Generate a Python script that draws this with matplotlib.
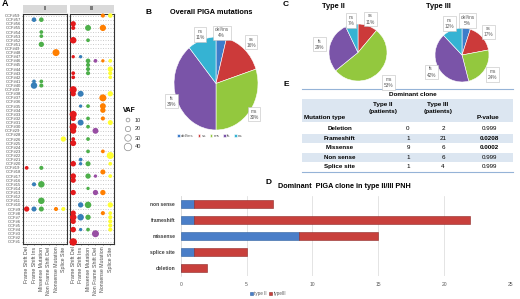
import matplotlib
matplotlib.use('Agg')
import matplotlib.pyplot as plt
from matplotlib.patches import Rectangle
import numpy as np

plt.rcParams['font.family'] = ['Liberation Sans', 'DejaVu Sans']

# ---------------- data ----------------
ccf_ids = [59, 57, 56, 55, 54, 53, 52, 51, 49, 48, 47, 46, 45, 44, 43, 42, 41, 40, 39, 38,
           37, 36, 35, 34, 33, 32, 31, 30, 29, 28, 26, 25, 24, 23, 22, 21, 20, 19, 18, 17,
           16, 15, 14, 13, 12, 11, 10, 9, 8, 7, 6, 5, 4, 3, 2, 1]
mutation_types = ["Frame Shift Del", "Frame Shift Ins", "Missense Mutation",
                  "Non Frame Shift Del", "Nonsense Mutation", "Splice Site"]
mut_colors = ['#E41A1C', '#377EB8', '#4DAF4A', '#984EA3', '#FF7F00', '#FFFF33']

# facet II: sample id, mutation index, VAF
ii_sample = [57, 57, 54, 53, 51, 48, 41, 40, 41, 40, 26, 19, 19, 15, 15, 11, 9, 9, 9, 9, 9]
ii_mut    = [1, 2, 2, 2, 2, 4, 1, 1, 2, 2, 5, 0, 2, 1, 2, 2, 0, 1, 2, 4, 5]
ii_vaf    = [15, 15, 10, 10, 20, 35, 10, 30, 10, 12, 20, 10, 12, 12, 30, 30, 20, 18, 18, 12, 12]

# facet III
iii_sample = [59, 59, 56, 55, 55, 55, 52, 52, 47, 47, 46, 46, 46, 46, 45, 44, 44, 43, 43, 43,
              42, 42, 39, 38, 38, 38, 37, 35, 35, 35, 34, 33, 32, 32, 32, 31, 31, 30, 30, 29,
              29, 26, 26, 25, 23, 23, 22, 21, 20, 20, 20, 20, 18, 17, 17, 17, 17, 16, 14, 13,
              13, 13, 10, 10, 10, 8, 8, 8, 7, 7, 7, 7, 6, 6, 5, 4, 4, 4, 4, 3, 1]
iii_mut    = [4, 5, 0, 0, 2, 4, 0, 2, 0, 1, 2, 3, 4, 5, 2, 2, 5, 2, 5, 0,
              0, 5, 0, 0, 1, 5, 4, 4, 1, 2, 4, 0, 0, 2, 4, 1, 5, 0, 2, 0,
              3, 0, 2, 0, 2, 4, 5, 1, 0, 1, 2, 5, 4, 0, 2, 3, 5, 0, 2, 0,
              3, 4, 1, 2, 5, 0, 4, 5, 0, 1, 2, 5, 0, 5, 5, 0, 1, 2, 5, 3, 0]
iii_vaf    = [12, 15, 20, 12, 25, 28, 30, 10, 8, 8, 15, 10, 8, 10, 12, 12, 20, 12, 12, 10,
              10, 10, 35, 20, 25, 20, 35, 25, 8, 10, 20, 35, 20, 10, 12, 25, 18, 35, 10, 25,
              25, 10, 10, 25, 10, 10, 35, 10, 22, 8, 18, 10, 18, 22, 20, 8, 10, 20, 8, 20,
              20, 20, 20, 30, 20, 20, 12, 10, 30, 30, 20, 12, 20, 12, 12, 22, 8, 10, 12, 35, 40]
vaf_legend = [10, 20, 30, 40]

pie_names = ['del/ins', 'ss', 'ms', 'fs', 'ns']
pie_colors = ['#3D7DCA', '#CC3A3A', '#93C83E', '#7A54A8', '#35B3D3']
overall_pct = [4, 16, 30, 39, 11]
type2_names = ['ss', 'ms', 'fs', 'ns']
type2_pct = [11, 53, 29, 7]
type3_pct = [5, 17, 24, 42, 12]

tbl_types = ['Deletion', 'Frameshift', 'Missense', 'Non sense', 'Splice site']
tbl_t2 = [0, 1, 9, 1, 1]
tbl_t3 = [2, 21, 6, 6, 4]
tbl_p = ['0.999', '0.0208', '0.0002', '0.999', '0.999']

bar_cats = ['deletion', 'splice site', 'missense', 'frameshift', 'non sense']
bar_type2 = [0, 1, 9, 1, 1]
bar_type3 = [2, 4, 6, 21, 6]

# ---------------- figure ----------------
W, H = 520, 299
fig = plt.figure(figsize=(5.2, 2.99), dpi=100)


def box(x0, y0, x1, y1):
    return [x0 / W, 1 - y1 / H, (x1 - x0) / W, (y1 - y0) / H]


cv = fig.add_axes([0, 0, 1, 1])
cv.set_xlim(0, W)
cv.set_ylim(H, 0)
cv.axis('off')


def vsize(v):
    d_px = 7.5 * np.sqrt(np.asarray(v, float) / 40.0)
    return (d_px * 72 / 100.0) ** 2


# ---- Panel A ----
cv.text(2, 4, 'A', fontsize=6.5, fontweight='bold', va='center')
n_rows = len(ccf_ids)
facets = [(23, 67, 'II', ii_sample, ii_mut, ii_vaf),
          (69.5, 114, 'III', iii_sample, iii_mut, iii_vaf)]
for k, (x0, x1, name, samp, mut, vaf) in enumerate(facets):
    ax = fig.add_axes(box(x0, 13.5, x1, 244))
    ax.set_xlim(-0.5, 5.5)
    ax.set_ylim(n_rows - 0.5, -0.5)
    ax.hlines(range(n_rows), -0.5, 5.5, colors='#C4C4C4', lw=0.6,
              linestyles=(0, (1.2, 1.8)), zorder=0)
    rows = [ccf_ids.index(s) for s in samp]
    ax.scatter(mut, rows, s=vsize(vaf), c=[mut_colors[m] for m in mut],
               edgecolors='none', zorder=3, clip_on=False)
    for sp in ax.spines.values():
        sp.set_color('#333333')
        sp.set_linewidth(0.8)
    ax.set_xticks(range(6))
    ax.set_xticklabels(mutation_types, rotation=90, fontsize=3.8, color='#4D4D4D')
    ax.set_yticks(range(n_rows))
    if k == 0:
        ax.set_yticklabels(['CCF#%d' % c for c in ccf_ids], fontsize=3.0, color='#4D4D4D')
    else:
        ax.set_yticklabels([])
    ax.tick_params(length=1.0, width=0.4, pad=0.8, colors='#333333')
    ax.tick_params(axis='x', labelcolor='#4D4D4D')
    ax.tick_params(axis='y', labelcolor='#4D4D4D')
    cv.add_patch(Rectangle((x0, 5), x1 - x0, 8, fc='#D9D9D9', ec='none'))
    cv.text((x0 + x1) / 2, 9, name, fontsize=3.8, ha='center', va='center', color='#1A1A1A')

# VAF legend
cv.text(123, 110, 'VAF', fontsize=4.8, fontweight='bold', va='center')
ly = [120, 129, 138, 147]
cv.scatter([128] * len(vaf_legend), ly, s=vsize(vaf_legend), facecolors='none',
           edgecolors='#8C8C8C', linewidths=0.5)
for yy, v in zip(ly, vaf_legend):
    cv.text(135, yy, str(v), fontsize=4.0, va='center', color='#333333')


# ---- pies ----
def draw_pie(bx, vals, names, cols, ldists):
    ax = fig.add_axes(box(*bx))
    wedges, texts = ax.pie(vals, colors=cols, startangle=90, counterclock=False,
                           labels=['%s\n%d%%' % (n, v) for n, v in zip(names, vals)],
                           labeldistance=1.0,
                           wedgeprops=dict(edgecolor='white', linewidth=0.4))
    ax.set_aspect('auto')
    ax.set_xlim(-1, 1)
    ax.set_ylim(-1, 1)
    for w, t, d in zip(wedges, texts, ldists):
        ang = np.deg2rad((w.theta1 + w.theta2) / 2)
        t.set_position((d * np.cos(ang), d * np.sin(ang)))
        t.set_ha('center')
        t.set_va('center')
        t.set_fontsize(3.4)
        t.set_color('#595959')
        t.set_linespacing(1.3)
        t.set_bbox(dict(boxstyle='square,pad=0.35', fc='white', ec='#BFBFBF', lw=0.4))
    return ax, wedges


cv.text(146, 13, 'B', fontsize=6, fontweight='bold', va='center')
cv.text(211, 13, 'Overall PIGA mutations', fontsize=5.3, fontweight='bold',
        ha='center', va='center')
axB, wB = draw_pie((174, 37, 258, 130), overall_pct, pie_names, pie_colors,
                   [1.1, 1.22, 1.12, 1.12, 1.12])
fig.legend(wB, pie_names, loc='center', bbox_to_anchor=(210 / W, 1 - 136 / H),
           ncol=5, fontsize=3.2, frameon=False, handlelength=0.6, handleheight=0.6,
           columnspacing=0.8, handletextpad=0.3, labelcolor='#595959')

cv.text(283, 4.5, 'C', fontsize=6, fontweight='bold', va='center')
cv.text(333, 6, 'Type II', fontsize=5.3, fontweight='bold', ha='center', va='center')
cv.text(438, 6, 'Type III', fontsize=5.3, fontweight='bold', ha='center', va='center')
draw_pie((329, 24, 387, 81), type2_pct, type2_names, pie_colors[1:],
         [1.25, 1.5, 1.35, 1.15])
draw_pie((435, 28, 489, 82), type3_pct, pie_names, pie_colors,
         [1.3, 1.3, 1.35, 1.3, 1.25])

# ---- table E ----
cv.text(283, 85, 'E', fontsize=6, fontweight='bold', va='center')
tl, tr = 302, 513
cv.plot([tl, tr], [89.3, 89.3], color='#95B3D7', lw=0.8)
cv.text(413, 94.5, 'Dominant clone', fontsize=4.6, fontweight='bold', ha='center', va='center')
cv.add_patch(Rectangle((tl, 98.5), tr - tl, 23.5, fc='#DCE6F1', ec='none', zorder=0))
cv.text(325, 117.3, 'Mutation type', fontsize=4.6, fontweight='bold', ha='center', va='center')
cv.text(383, 104.3, 'Type II', fontsize=4.6, fontweight='bold', ha='center', va='center')
cv.text(383, 111.7, '(patients)', fontsize=4.6, fontweight='bold', ha='center', va='center')
cv.text(438, 104.3, 'Type III', fontsize=4.6, fontweight='bold', ha='center', va='center')
cv.text(438, 111.7, '(patients)', fontsize=4.6, fontweight='bold', ha='center', va='center')
cv.text(488, 117.3, 'P-value', fontsize=4.6, fontweight='bold', ha='center', va='center')
row_y = [129, 138.5, 147.8, 157.2, 166.6]
for i, (nm, a, b, p) in enumerate(zip(tbl_types, tbl_t2, tbl_t3, tbl_p)):
    y = row_y[i]
    if i % 2 == 1:
        cv.add_patch(Rectangle((tl, y - 4.7), tr - tl, 9.4, fc='#DCE6F1', ec='none', zorder=0))
    cv.text(340, y, nm, fontsize=4.5, fontweight='bold', ha='center', va='center')
    cv.text(408, y, str(a), fontsize=4.5, ha='center', va='center')
    cv.text(443, y, str(b), fontsize=4.5, ha='center', va='center')
    bold = float(p) < 0.05
    cv.text(489, y, p, fontsize=4.5, ha='center', va='center',
            fontweight='bold' if bold else 'normal')
cv.plot([tl, tr], [171.7, 171.7], color='#95B3D7', lw=0.8)

# ---- bar chart D ----
cv.text(266, 182, 'D', fontsize=6, fontweight='bold', va='center')
cv.text(344, 187, 'Dominant  PIGA clone in type II/III PNH', fontsize=5.2,
        fontweight='bold', ha='center', va='center')
axD = fig.add_axes(box(180.7, 196, 510, 276))
yy = np.arange(len(bar_cats))
axD.barh(yy, bar_type2, height=0.45, color='#4A7EC8', edgecolor='#2F5F9E', lw=0.4,
         label='type II', zorder=3)
axD.barh(yy, bar_type3, left=bar_type2, height=0.45, color='#C8403C', edgecolor='#8E2A27',
         lw=0.4, label='typeIII', zorder=3)
axD.set_xlim(0, 25)
axD.set_ylim(-0.5, len(bar_cats) - 0.5)
axD.set_xticks([0, 5, 10, 15, 20, 25])
axD.xaxis.grid(True, color='#D9D9D9', lw=0.5)
axD.set_axisbelow(True)
for s in ['top', 'right', 'bottom']:
    axD.spines[s].set_visible(False)
axD.spines['left'].set_color('#D9D9D9')
axD.spines['left'].set_linewidth(0.5)
axD.set_yticks(yy)
axD.set_yticklabels(bar_cats, fontsize=3.6, fontweight='bold', color='#404040')
axD.tick_params(axis='y', length=0, pad=4)
axD.tick_params(axis='x', length=0, pad=4, labelsize=3.6, labelcolor='#595959')
fig.legend(*axD.get_legend_handles_labels(), loc='center',
           bbox_to_anchor=(268 / W, 1 - 294 / H), ncol=2, fontsize=3.3, frameon=False,
           handlelength=0.6, handleheight=0.6, columnspacing=0.6, handletextpad=0.3,
           labelcolor='#595959')

fig.savefig('out.png', dpi=100)
